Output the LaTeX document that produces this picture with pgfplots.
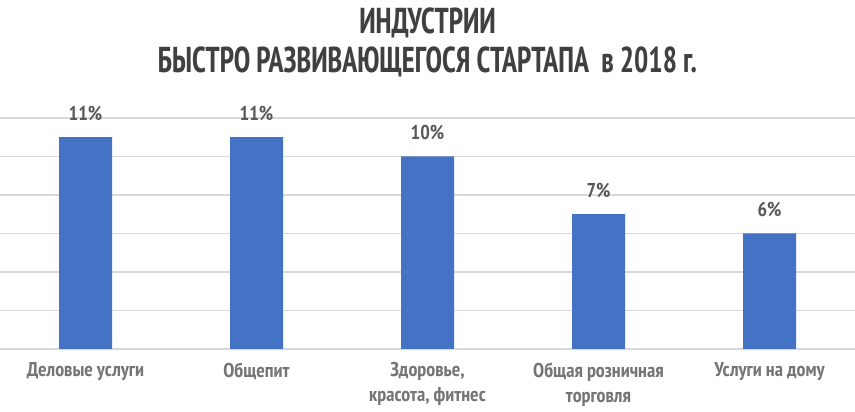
\documentclass[border=0pt]{standalone}
\usepackage{fontspec}
\setmainfont{PT Sans Narrow}
\usepackage{pgfplots}
\pgfplotsset{compat=1.18}
\definecolor{barblue}{HTML}{4472C4}
\definecolor{titlegray}{HTML}{404040}
\definecolor{labelgray}{HTML}{595959}
\definecolor{tickgray}{HTML}{757575}
\definecolor{gridgray}{HTML}{D9D9D9}
\begin{document}
\begin{tikzpicture}[x=1pt,y=1pt]
\useasboundingbox (0,-63) rectangle (855,349);
\begin{axis}[
  at={(0,0)}, anchor=south west,
  scale only axis,
  width=855pt, height=231pt,
  xmin=-0.5, xmax=4.5,
  ymin=0, ymax=12,
  ytick={0,2,...,12},
  yticklabels={},
  ymajorgrids,
  grid style={gridgray, line width=1.3pt},
  axis line style={draw=none},
  major tick length=0pt,
  /pgf/number format/assume math mode=true,
  xtick=data,
  xticklabels={Деловые услуги, Общепит, {Здоровье,\\красота, фитнес}, {Общая розничная\\торговля}, Услуги на дому},
  xticklabel style={font=\fontsize{20}{25}\selectfont\bfseries, text=tickgray, align=center, anchor=north, yshift=-10pt},
  ybar, bar width=53pt,
  nodes near coords={\pgfmathprintnumber{\pgfplotspointmeta}\%},
  every node near coord/.append style={font=\fontsize{20}{24}\selectfont\bfseries, text=labelgray, yshift=13pt},
]
\addplot[fill=barblue, draw=none] coordinates {(0,11) (1,11) (2,10) (3,7) (4,6)};
\end{axis}
\node[text=titlegray, align=center, anchor=north, inner sep=0pt] at (427.5,343)
  {\scalebox{0.83}[1]{\fontsize{36}{39}\selectfont\bfseries\begin{tabular}{c}ИНДУСТРИИ\\БЫСТРО РАЗВИВАЮЩЕГОСЯ СТАРТАПА~ в 2018 г.\end{tabular}}};
\end{tikzpicture}
\end{document}
